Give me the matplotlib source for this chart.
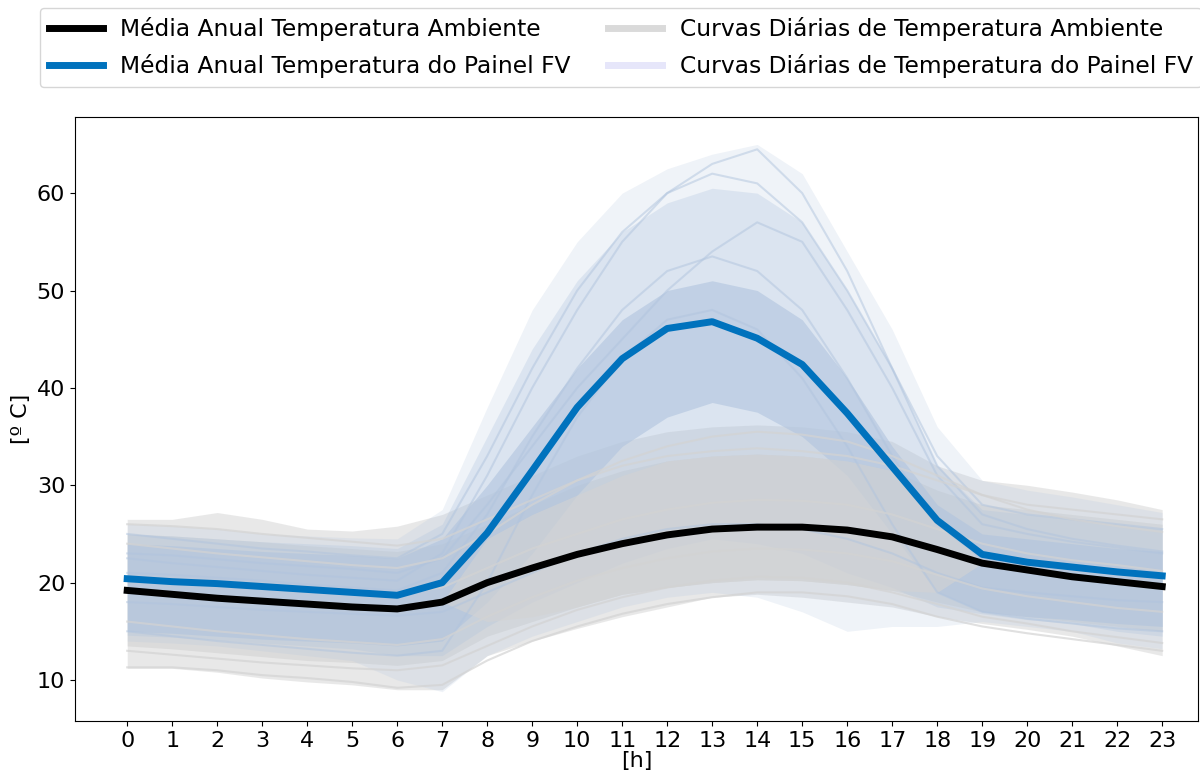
import matplotlib
matplotlib.use("Agg")
import matplotlib.pyplot as plt
from matplotlib.lines import Line2D
import numpy as np

horas = list(range(24))

# médias anuais por hora
media_amb = [19.2, 18.8, 18.4, 18.1, 17.8, 17.5, 17.3, 18.0, 20.0, 21.5, 22.9, 24.0,
             24.9, 25.5, 25.7, 25.7, 25.4, 24.7, 23.4, 22.0, 21.3, 20.6, 20.1, 19.6]
media_fv = [20.4, 20.1, 19.9, 19.6, 19.3, 19.0, 18.7, 20.0, 25.1, 31.5, 38.0, 43.0,
            46.1, 46.8, 45.1, 42.4, 37.4, 31.9, 26.4, 22.9, 22.1, 21.6, 21.1, 20.7]

# faixa das curvas diárias: extremos, faixa intermediária e região densa
amb_min = [11.2, 11.2, 10.8, 10.2, 9.8, 9.5, 9.0, 9.0, 12.5, 14.0, 15.3, 16.5,
           17.5, 18.5, 18.8, 18.5, 18.0, 17.5, 16.5, 15.8, 15.2, 14.5, 13.5, 12.5]
amb_max = [26.5, 26.5, 27.2, 26.5, 25.5, 25.3, 25.8, 27.0, 29.0, 31.0, 33.0, 34.5,
           35.5, 36.0, 36.2, 36.0, 35.5, 34.5, 32.0, 30.5, 30.0, 29.3, 28.5, 27.5]
amb_lo = [13.5, 13.2, 12.8, 12.4, 12.0, 11.8, 11.5, 12.0, 14.5, 16.0, 17.5, 18.8,
          19.5, 20.0, 20.3, 20.2, 19.8, 19.2, 18.0, 17.0, 16.5, 16.0, 15.5, 15.0]
amb_hi = [25.0, 24.8, 24.5, 24.2, 23.8, 23.5, 23.2, 24.0, 26.0, 28.0, 30.0, 31.5,
          32.5, 33.0, 33.2, 33.0, 32.5, 31.5, 29.5, 28.0, 27.5, 27.0, 26.5, 26.0]
# parte do ambiente que aparece por cima durante o dia (7h a 19h)
horas_dia = list(range(7, 20))
amb_dia_lo = [18.0, 16.0, 16.5, 17.5, 18.8, 19.5, 20.0, 20.3, 20.2, 19.8, 19.2, 19.0, 22.0]
amb_dia_hi = [18.0, 24.5, 27.0, 29.0, 31.0, 32.5, 33.0, 33.2, 33.0, 32.5, 31.5, 27.0, 22.0]

fv_min = [14.0, 13.8, 13.5, 13.0, 12.5, 12.0, 10.0, 8.8, 12.5, 14.5, 16.0, 17.5,
          18.5, 19.0, 18.5, 17.0, 15.0, 15.5, 15.5, 16.0, 15.5, 15.0, 13.8, 13.2]
fv_max = [26.0, 25.8, 25.5, 25.0, 24.8, 24.6, 24.5, 27.5, 38.0, 48.0, 55.0, 60.0,
          62.5, 64.0, 65.0, 62.0, 54.0, 46.0, 36.0, 30.5, 29.5, 28.8, 28.0, 27.2]
fv_mlo = [14.6, 14.4, 14.1, 13.8, 13.5, 13.2, 12.5, 12.5, 15.5, 18.0, 20.0, 22.0,
          23.5, 24.5, 24.0, 23.0, 21.0, 19.5, 17.5, 16.8, 16.2, 15.8, 15.0, 14.5]
fv_mhi = [25.0, 24.8, 24.5, 24.2, 24.0, 23.8, 23.5, 26.0, 35.0, 44.0, 51.0, 56.0,
          59.0, 60.5, 60.0, 57.0, 50.0, 42.0, 32.0, 27.5, 27.0, 26.5, 26.0, 25.5]
fv_lo = [15.0, 14.8, 14.5, 14.2, 14.0, 13.8, 13.5, 14.0, 18.0, 23.0, 29.0, 34.0,
         37.0, 38.5, 37.5, 35.0, 31.0, 25.0, 19.0, 17.0, 16.5, 16.2, 15.8, 15.5]
fv_hi = [24.0, 23.8, 23.5, 23.2, 23.0, 22.8, 22.5, 24.5, 30.0, 36.0, 42.0, 47.0,
         50.0, 51.0, 50.0, 47.0, 41.0, 34.0, 28.0, 25.0, 24.5, 24.0, 23.5, 23.2]

# alguns dias típicos
dias_amb = [
    [24, 23.5, 23, 22.6, 22.2, 21.8, 21.5, 22.5, 25, 28, 30.5, 32.5, 34, 35, 35.5, 35.2, 34.5, 33, 31, 29, 27.5, 26.5, 25.8, 25.2],
    [11.3, 11.3, 11.0, 10.5, 10.2, 9.8, 9.2, 9.5, 12, 14, 15.5, 16.8, 17.8, 18.5, 19, 19, 18.6, 17.8, 16.5, 15.5, 14.8, 14.2, 13.6, 13],
    [16, 15.5, 15, 14.6, 14.2, 13.9, 13.6, 14.2, 16.5, 18.5, 20.2, 21.5, 22.5, 23.2, 23.5, 23.4, 23, 22.2, 20.8, 19.4, 18.6, 18, 17.4, 17],
    [20.5, 20.2, 19.8, 19.5, 19.2, 19, 18.8, 19.5, 21.5, 23.5, 25, 26.5, 27.5, 28.2, 28.5, 28.4, 28, 27, 25.5, 24, 23, 22.3, 21.8, 21.2],
    [26, 25.8, 25.5, 25, 24.6, 24.2, 23.8, 24.5, 26.5, 28.5, 30.5, 32, 33, 33.5, 33.8, 33.5, 33, 32, 30.5, 29, 28, 27.5, 27, 26.5],
    [13, 12.6, 12.2, 11.8, 11.5, 11.2, 11, 11.5, 13.5, 15.5, 17.2, 18.5, 19.5, 20.2, 20.6, 20.5, 20, 19, 17.8, 16.5, 15.8, 15, 14.4, 13.8],
]
dias_fv = [
    [25, 24.5, 24, 23.5, 23.2, 22.8, 22.5, 25, 33, 42, 50, 56, 60, 62, 61, 57, 50, 42, 33, 28, 27, 26.5, 26, 25.5],
    [15, 14.5, 14, 13.6, 13.2, 12.8, 12.5, 13, 20, 29, 37, 43, 47, 48, 46, 41, 34, 26, 19, 17, 16.3, 15.8, 15.3, 15],
    [18, 17.8, 17.5, 17.2, 17, 16.8, 16.6, 17, 19, 21, 23, 24.5, 25.5, 26, 26, 25.5, 24.5, 23, 21, 19.5, 19, 18.6, 18.2, 18],
    [21, 20.8, 20.5, 20.2, 19.8, 19.5, 19.2, 21, 27, 35, 42, 48, 52, 53.5, 52, 48, 41, 33, 26, 22.5, 21.8, 21.3, 20.9, 20.5],
    [23, 22.8, 22.4, 22, 21.7, 21.4, 21, 22.5, 28, 34, 40, 45, 50, 54, 57, 55, 48, 40, 31, 26, 25, 24.2, 23.6, 23],
    [22.5, 22, 21.6, 21.2, 20.8, 20.5, 20.2, 23, 31, 40, 48, 55, 60, 63, 64.5, 60, 52, 42, 32, 27, 25.5, 24.5, 23.8, 23.2],
]

cor_amb = "lightgray"
cor_fv = "lightsteelblue"

fig = plt.figure(figsize=(12, 7.76), dpi=100)
ax = fig.add_axes([0.0625, 0.071, 0.936, 0.778])

# curvas diárias: faixas + alguns dias
ax.fill_between(horas, amb_min, amb_max, color=cor_amb, alpha=0.5, lw=0, zorder=1)
ax.fill_between(horas, amb_lo, amb_hi, color=cor_amb, alpha=0.6, lw=0, zorder=1)
ax.fill_between(horas, fv_min, fv_max, color=cor_fv, alpha=0.2, lw=0, zorder=2)
ax.fill_between(horas, fv_mlo, fv_mhi, color=cor_fv, alpha=0.3, lw=0, zorder=2)
ax.fill_between(horas, fv_lo, fv_hi, color=cor_fv, alpha=0.6, lw=0, zorder=2)
ax.fill_between(horas_dia, amb_dia_lo, amb_dia_hi, color=cor_amb, alpha=0.6,
                lw=0, zorder=3)
for d in dias_fv:
    ax.plot(horas, d, color=cor_fv, alpha=0.5, lw=1.5, zorder=3)
for d in dias_amb:
    ax.plot(horas, d, color=cor_amb, alpha=0.7, lw=1.5, zorder=3)

ax.plot(horas, media_amb, color="black", lw=5, zorder=5)
ax.plot(horas, media_fv, color="#0072bd", lw=5, zorder=5)

ax.set_xlim(-1.16, 23.8)
ax.set_ylim(5.8, 67.8)
ax.set_xticks(horas)
ax.tick_params(labelsize=16)
ax.set_xlabel("[h]", fontsize=16, labelpad=0)
ax.set_ylabel("[º C]", fontsize=16)

handles = [
    Line2D([], [], color="black", lw=5),
    Line2D([], [], color="#0072bd", lw=5),
    Line2D([], [], color="#dadada", lw=5),
    Line2D([], [], color="#e6e6fa", lw=5),
]
labels = [
    "Média Anual Temperatura Ambiente",
    "Média Anual Temperatura do Painel FV",
    "Curvas Diárias de Temperatura Ambiente",
    "Curvas Diárias de Temperatura do Painel FV",
]
fig.legend(handles, labels, loc="upper left", bbox_to_anchor=(0.033, 0.99),
           borderaxespad=0, ncol=2, fontsize=16.8, handlelength=2.3,
           handletextpad=0.76, columnspacing=1.6, borderpad=0.4,
           labelspacing=0.55)

fig.savefig("out.png", dpi=100)
